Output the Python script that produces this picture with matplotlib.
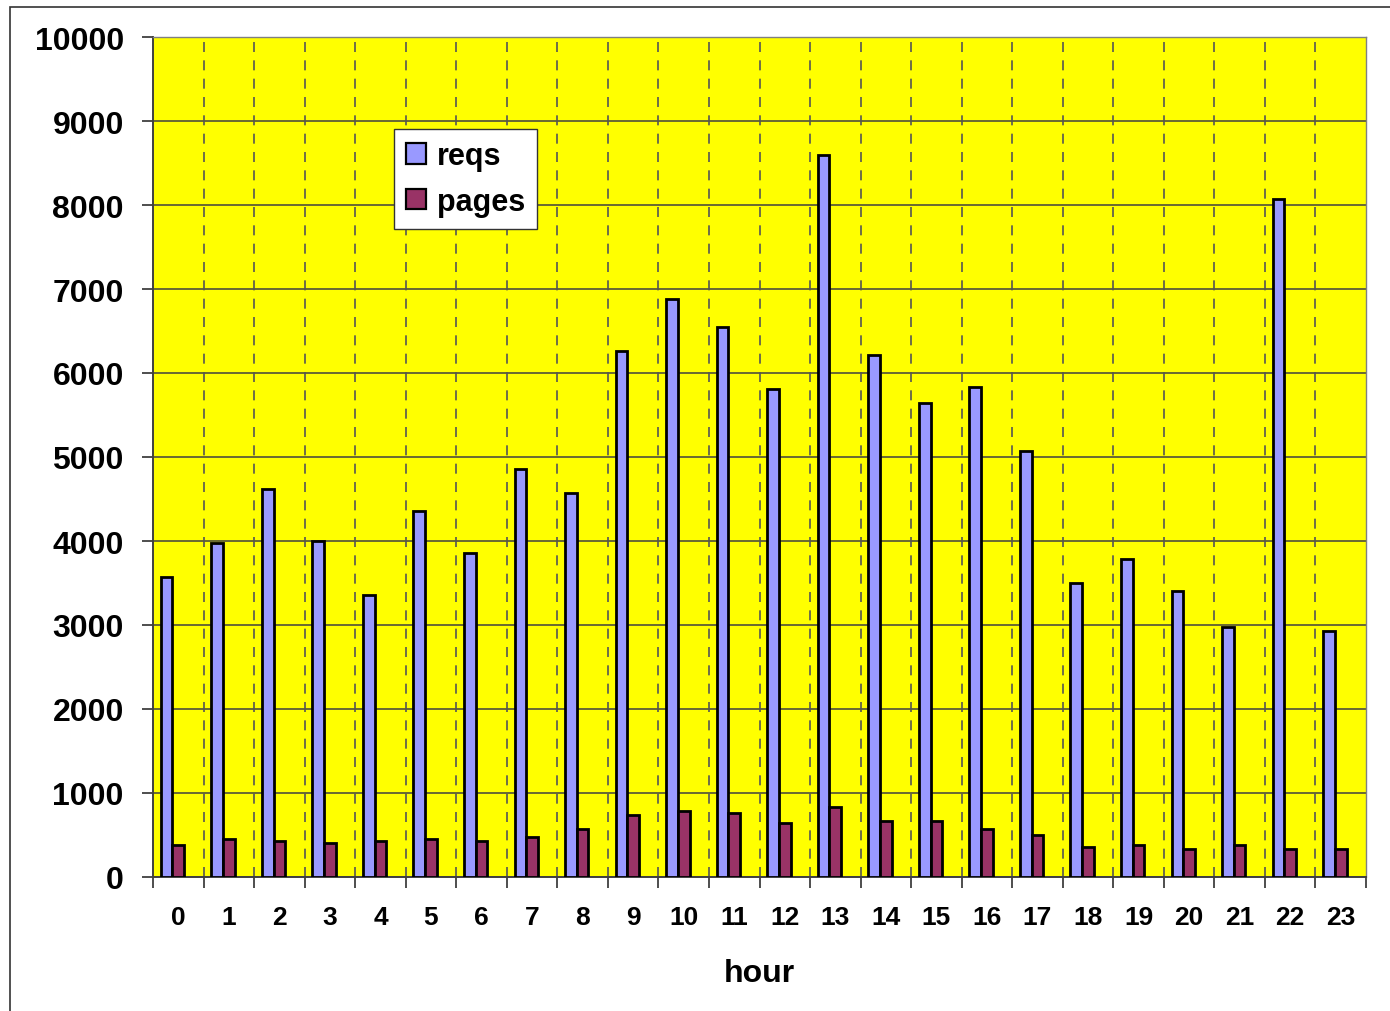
import matplotlib
matplotlib.use("Agg")
import matplotlib.pyplot as plt
import numpy as np
from matplotlib.patches import Rectangle

hours = [str(h) for h in range(24)]
reqs = [3570, 3976, 4619, 4000, 3357, 4357, 3857, 4857, 4571, 6262, 6881, 6548,
        5810, 8595, 6214, 5643, 5833, 5071, 3500, 3786, 3405, 2976, 8071, 2929]
pages = [381, 452, 429, 405, 429, 452, 429, 476, 571, 738, 786, 762,
         643, 833, 667, 667, 571, 500, 357, 381, 333, 381, 333, 333]
yticks = list(range(0, 10001, 1000))

plt.rcParams['font.family'] = ['Liberation Sans', 'DejaVu Sans']
fig = plt.figure(figsize=(13.9, 10.12), dpi=100)
W, H = 1390, 1012
ax = fig.add_axes([153 / W, 1 - 878 / H, (1366 - 153) / W, (878 - 38) / H])

# outer border
fig.patches.append(Rectangle((10 / W, -0.1), 1.2, 1 - 8 / H + 0.1, transform=fig.transFigure,
                             fill=False, edgecolor='#333333', linewidth=1.2))

x = np.arange(len(hours))
w = 0.2315
ax.set_facecolor('#FFFF00')
ax.bar(x - w, reqs, width=w, color='#9999FF', edgecolor='black', linewidth=2.0, label='reqs', zorder=3)
ax.bar(x, pages, width=w, color='#993366', edgecolor='black', linewidth=2.0, label='pages', zorder=3)

ax.set_xlim(-0.5, 23.5)
ax.set_ylim(0, 10000)
ax.set_yticks(yticks)
ax.set_yticklabels([str(v) for v in yticks], fontsize=23, fontweight='bold')
ax.set_xticks(x)
ax.set_xticklabels(hours, fontsize=19, fontweight='bold')
ax.set_xticks(np.arange(-0.5, 24, 1), minor=True)
ax.tick_params(axis='x', which='major', length=0, pad=20)
ax.tick_params(axis='x', which='minor', length=8, width=1.3, color='#404040', direction='out')
ax.tick_params(axis='y', length=8, width=1.3, color='#404040', pad=13)

ax.yaxis.grid(True, color='#404040', linewidth=1.1, zorder=1)
for b in np.arange(0.5, 23.5, 1):
    ax.axvline(b, color='#555555', linewidth=1.2, linestyle=(0, (6, 5)), zorder=1)
ax.set_axisbelow(True)

for s in ['left', 'bottom']:
    ax.spines[s].set_color('#404040')
    ax.spines[s].set_linewidth(1.4)
for s in ['top', 'right']:
    ax.spines[s].set_color('#808080')
    ax.spines[s].set_linewidth(1.0)

ax.set_xlabel('hour', fontsize=23, fontweight='bold', labelpad=21)

leg = ax.legend(loc='upper left', bbox_to_anchor=((394 - 153) / (1366 - 153), (878 - 130) / 840),
                prop={'size': 22, 'weight': 'bold'}, frameon=True, fancybox=False, framealpha=1,
                handlelength=0.65, handleheight=0.65, handletextpad=0.35, borderpad=0.4,
                labelspacing=0.5, borderaxespad=0)
leg.get_frame().set_edgecolor('#333333')
leg.get_frame().set_facecolor('white')
leg.get_frame().set_linewidth(1.0)
for p in leg.get_patches():
    p.set_linewidth(1.6)

fig.savefig('out.png', dpi=100)
